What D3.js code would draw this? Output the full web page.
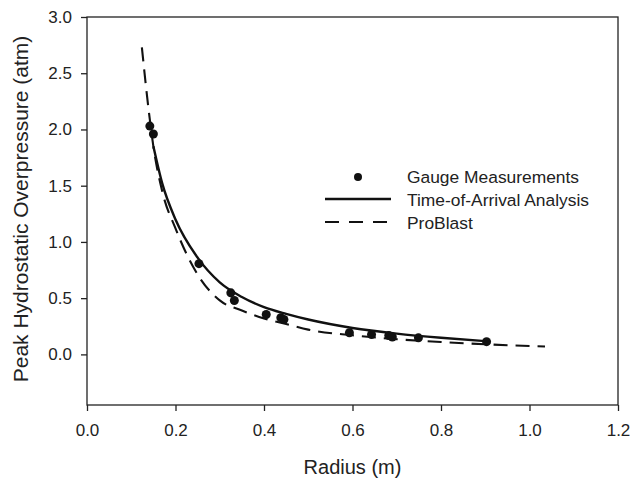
<!DOCTYPE html>
<html><head><meta charset="utf-8">
<script src="https://cdn.jsdelivr.net/npm/d3@7"></script>
<style>body{margin:0;background:#fff}svg{display:block}text{font-family:"Liberation Sans",Arial,sans-serif;fill:#222}</style>
</head><body>
<script>
const gaugeR = [0.142,0.150,0.253,0.325,0.333,0.405,0.438,0.445,0.593,0.643,0.682,0.690,0.749,0.903];
const gaugeP = [2.03,1.96,0.807,0.547,0.479,0.355,0.326,0.310,0.192,0.177,0.168,0.155,0.147,0.113];
const toaR = [0.150,0.170,0.200,0.250,0.300,0.350,0.400,0.450,0.500,0.600,0.700,0.800,0.900];
const toaP = [1.85,1.52,1.20,0.86,0.64,0.51,0.42,0.36,0.31,0.235,0.185,0.148,0.118];
const pbR = [0.124,0.140,0.150,0.170,0.200,0.250,0.300,0.350,0.400,0.450,0.500,0.600,0.700,0.800,0.900,1.035];
const pbP = [2.73,2.15,1.85,1.45,1.12,0.71,0.48,0.39,0.32,0.27,0.22,0.17,0.135,0.11,0.09,0.07];
const xTicks = [0.0,0.2,0.4,0.6,0.8,1.0,1.2];
const yTicks = [0.0,0.5,1.0,1.5,2.0,2.5,3.0];
const legendLabels = ["Gauge Measurements","Time-of-Arrival Analysis","ProBlast"];

const W=632,H=478;
const m={l:87,r:14,t:17,b:73};
const svg=d3.select("body").append("svg").attr("width",W).attr("height",H);
const x=d3.scaleLinear().domain([0,1.2]).range([m.l,W-m.r]);
const y=d3.scaleLinear().domain([-0.45,3.0]).range([H-m.b,m.t]);

svg.append("rect").attr("x",m.l).attr("y",m.t).attr("width",W-m.r-m.l).attr("height",H-m.b-m.t)
  .attr("fill","none").attr("stroke","#222").attr("stroke-width",1.3);

const fmt=d3.format(".1f");
const xa=svg.append("g").attr("transform",`translate(0,${H-m.b})`)
  .call(d3.axisBottom(x).tickValues(xTicks).tickFormat(fmt).tickSize(6).tickPadding(13));
const ya=svg.append("g").attr("transform",`translate(${m.l},0)`)
  .call(d3.axisLeft(y).tickValues(yTicks).tickFormat(fmt).tickSize(6).tickPadding(9));
[xa,ya].forEach(g=>{g.select(".domain").remove();g.selectAll("line").attr("stroke","#222").attr("stroke-width",1.3);
  g.selectAll("text").attr("font-size",17).attr("fill","#222").style("font-family","'Liberation Sans',Arial,sans-serif");});

svg.append("text").attr("x",x(0.6)).attr("y",474).attr("text-anchor","middle").attr("font-size",20).text("Radius (m)");
svg.append("text").attr("transform",`translate(28,209) rotate(-90)`).attr("text-anchor","middle")
  .attr("font-size",21).text("Peak Hydrostatic Overpressure (atm)");

const line=d3.line().x(d=>x(d[0])).y(d=>y(d[1])).curve(d3.curveMonotoneX);
svg.append("path").datum(pbR.map((r,i)=>[r,pbP[i]])).attr("d",line).attr("fill","none")
  .attr("stroke","#111").attr("stroke-width",2.1).attr("stroke-dasharray","14,8");
svg.append("path").datum(toaR.map((r,i)=>[r,toaP[i]])).attr("d",line).attr("fill","none")
  .attr("stroke","#111").attr("stroke-width",2.4);
svg.append("g").selectAll("circle").data(gaugeR.map((r,i)=>[r,gaugeP[i]])).join("circle")
  .attr("cx",d=>x(d[0])).attr("cy",d=>y(d[1])).attr("r",4.5).attr("fill","#111");

const lg=svg.append("g");
lg.append("circle").attr("cx",358).attr("cy",177).attr("r",4).attr("fill","#111");
lg.append("line").attr("x1",325).attr("x2",391).attr("y1",199).attr("y2",199).attr("stroke","#111").attr("stroke-width",2.4);
lg.append("line").attr("x1",325).attr("x2",391).attr("y1",222).attr("y2",222).attr("stroke","#111").attr("stroke-width",2.1).attr("stroke-dasharray","14,10");
legendLabels.forEach((t,i)=>lg.append("text").attr("x",407).attr("y",177+23*i).attr("dy","0.35em").attr("font-size",17.4).text(t));
</script>
</body></html>
